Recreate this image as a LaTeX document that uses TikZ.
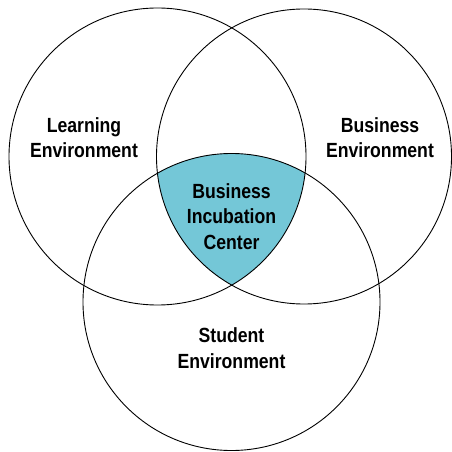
\documentclass[tikz,border=0pt]{standalone}
\usepackage{fontspec}
\setmainfont{Liberation Sans}[FakeStretch=0.86]
\definecolor{hub}{HTML}{74C7D7}
\begin{document}
\begin{tikzpicture}[x=1bp,y=-1bp,
  ring/.style={draw=black,line width=0.9bp},
  lbl/.style={anchor=base,inner sep=0pt,font=\fontsize{20.5bp}{25bp}\selectfont\bfseries}]
\useasboundingbox (0,0) rectangle (452,452);
\coordinate (cL) at (157.5,156.5);
\coordinate (cR) at (304,156.5);
\coordinate (cS) at (231.5,302);
\begin{scope}
  \clip (cL) circle[radius=148.5bp];
  \clip (cR) circle[radius=147.5bp];
  \fill[hub] (cS) circle[radius=148.5bp];
\end{scope}
\draw[ring] (cL) circle[radius=148.5bp];
\draw[ring] (cR) circle[radius=147.5bp];
\draw[ring] (cS) circle[radius=148.5bp];
\node[lbl] (l1) at (84,133) {Learning};
\node[lbl] (l2) at (84,158) {Environment};
\node[lbl] (b1) at (380,133) {Business};
\node[lbl] (b2) at (380,158) {Environment};
\node[lbl] (c1) at (231.5,199) {Business};
\node[lbl] (c2) at (231.5,224) {Incubation};
\node[lbl] (c3) at (231.5,249) {Center};
\node[lbl] (s1) at (231.5,342) {Student};
\node[lbl] (s2) at (231.5,368) {Environment};
\end{tikzpicture}
\end{document}
